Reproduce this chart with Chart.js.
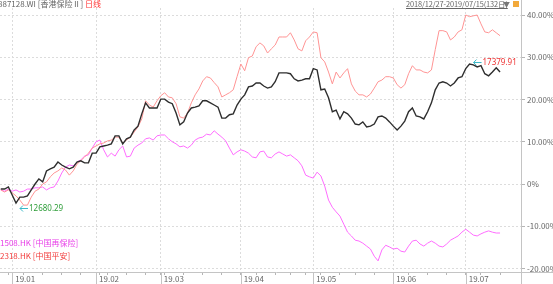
<!DOCTYPE html>
<html lang="zh-CN">
<head>
<meta charset="UTF-8">
<script src="https://cdn.jsdelivr.net/npm/chart.js"></script>
<title>887128.WI 香港保险Ⅱ</title>
<style>
  body { margin: 0; background: #fff; font-family: "Noto Sans CJK SC", sans-serif; }
  .quadro { position: relative; width: 553px; height: 284px; overflow: hidden; }
  canvas { position: absolute; left: 0; top: 0; }
  .txt { position: absolute; font-size: 8px; line-height: 10px; white-space: nowrap; }
</style>
</head>
<body>
<div class="quadro">
  <canvas id="grafico" width="553" height="284"></canvas>
  <div class="txt" style="left:-2px; top:-1px; color:#666">887128.WI [香港保险Ⅱ] <span style="color:#f33">日线</span></div>
  <div class="txt" style="left:406px; top:-1px; color:#666; text-decoration:underline; font-size:7.4px; letter-spacing:-0.1px">2018/12/27-2019/07/15(132日)</div>
  <div class="txt" style="left:503px; top:-1px; color:#777; font-size:7px">▼</div>
  <div style="position:absolute; left:513px; top:1px; width:6px; height:6px; background:#f2a93b"></div>
  <div class="txt" style="left:0; top:238px; color:#e83ee8">1508.HK [中国再保险]</div>
  <div class="txt" style="left:0; top:251px; color:#f23c3c">2318.HK [中国平安]</div>
</div>

<script>
// trading days (HK calendar), 2018/12/27 - 2019/07/15
const diasMes = [
  ['2018-12', [27, 28, 31]],
  ['2019-01', [2, 3, 4, 7, 8, 9, 10, 11, 14, 15, 16, 17, 18, 21, 22, 23, 24, 25, 28, 29, 30, 31]],
  ['2019-02', [1, 4, 8, 11, 12, 13, 14, 15, 18, 19, 20, 21, 22, 25, 26, 27, 28]],
  ['2019-03', [1, 4, 5, 6, 7, 8, 11, 12, 13, 14, 15, 18, 19, 20, 21, 22, 25, 26, 27, 28, 29]],
  ['2019-04', [1, 2, 3, 4, 8, 9, 10, 11, 12, 15, 16, 17, 18, 23, 24, 25, 26, 29, 30]],
  ['2019-05', [2, 3, 6, 7, 8, 9, 10, 14, 15, 16, 17, 20, 21, 22, 23, 24, 27, 28, 29, 30, 31]],
  ['2019-06', [3, 4, 5, 6, 10, 11, 12, 13, 14, 17, 18, 19, 20, 21, 24, 25, 26, 27, 28]],
  ['2019-07', [2, 3, 4, 5, 8, 9, 10, 11, 12, 15]]
]
const rotulosMes = ['19.01', '19.02', '19.03', '19.04', '19.05', '19.06', '19.07']
const ticksY = [-20, -10, 0, 10, 20, 30, 40]

// % change, 887128.WI 香港保险Ⅱ
const indice = [-1.2, -1.2, -0.7, -2.6, -4.5, -3.1, -3.1, -2.8, -1.4, 0.0,
  1.2, 0.5, 3.1, 3.6, 4.0, 5.2, 4.5, 4.0, 3.6, 4.0,
  5.2, 5.5, 5.0, 5.0, 7.3, 7.3, 8.8, 9.0, 9.2, 9.5,
  11.4, 11.4, 9.5, 10.7, 11.1, 12.8, 13.7, 16.6, 19.2, 18.0,
  18.0, 18.0, 20.1, 20.1, 19.4, 19.0, 16.8, 14.0, 14.7, 16.8,
  18.0, 18.2, 18.5, 19.7, 19.7, 19.2, 18.7, 18.2, 15.6, 15.6,
  16.4, 16.6, 18.7, 20.1, 21.1, 23.0, 23.2, 23.9, 23.9, 23.2,
  22.7, 23.0, 24.2, 26.3, 26.3, 26.3, 26.1, 24.9, 24.4, 24.6,
  24.9, 24.9, 27.3, 27.0, 22.3, 22.5, 20.4, 17.1, 17.5, 15.4,
  17.1, 16.6, 15.6, 14.2, 14.0, 14.7, 13.5, 13.7, 14.2, 15.9,
  16.1, 15.6, 14.7, 13.7, 12.8, 13.7, 14.9, 17.1, 18.0, 16.1,
  15.9, 15.4, 17.1, 19.2, 22.3, 23.9, 24.2, 23.9, 23.2, 23.9,
  25.1, 25.4, 27.3, 28.4, 28.2, 27.7, 28.0, 26.1, 25.6, 26.5,
  27.5, 26.5]

// 2318.HK 中国平安
const pingan = [-1.4, -1.9, -1.4, -2.1, -2.8, -3.8, -5.0, -5.0, -3.1, -1.7,
  -1.2, 0.0, 0.5, 1.7, 2.6, 3.1, 3.8, 3.3, 2.1, 3.1,
  4.7, 5.5, 6.4, 7.3, 8.5, 9.0, 9.5, 9.7, 10.2, 10.4,
  11.1, 11.1, 9.7, 10.4, 11.1, 12.3, 13.5, 15.4, 19.7, 18.7,
  18.2, 19.7, 20.9, 21.6, 20.6, 20.4, 19.0, 15.9, 15.6, 16.8,
  19.2, 21.1, 22.5, 24.4, 25.4, 25.1, 24.0, 23.0, 20.6, 21.1,
  21.6, 22.3, 25.4, 28.4, 26.8, 29.9, 30.3, 32.5, 33.4, 32.7,
  31.0, 32.0, 32.9, 34.8, 34.8, 34.8, 35.8, 34.1, 32.0, 31.5,
  33.9, 34.8, 36.0, 35.8, 29.9, 28.9, 26.5, 23.7, 26.5, 25.1,
  26.3, 27.3, 23.7, 22.0, 21.1, 21.1, 20.6, 21.3, 22.7, 24.2,
  24.6, 25.4, 25.4, 25.1, 23.5, 22.7, 23.5, 26.1, 28.0, 27.0,
  27.0, 26.5, 26.3, 27.0, 31.8, 36.3, 36.3, 36.0, 34.1, 34.8,
  36.0, 36.5, 40.0, 39.6, 39.8, 40.0, 37.9, 36.0, 35.8, 36.5,
  35.8, 35.1]

// 1508.HK 中国再保险
const zaibao = [-1.4, -1.7, -1.2, -1.7, -1.4, -1.9, -1.7, -1.2, -1.2, -0.9,
  -0.9, -0.7, -1.4, -0.9, -0.7, 0.7, 2.6, 4.0, 4.5, 4.3,
  5.2, 5.7, 6.6, 6.9, 8.5, 10.0, 10.4, 8.1, 6.4, 7.3,
  6.6, 8.1, 9.0, 6.4, 6.6, 8.5, 9.2, 9.7, 10.7, 10.9,
  10.4, 11.4, 11.6, 11.6, 10.7, 10.0, 9.5, 8.8, 9.0, 8.5,
  9.2, 10.4, 10.9, 11.1, 11.8, 11.6, 12.6, 11.8, 11.1, 10.2,
  8.5, 6.9, 7.6, 8.1, 7.8, 7.3, 6.4, 6.2, 7.6, 7.8,
  6.4, 6.2, 7.1, 7.6, 7.1, 6.6, 6.9, 6.2, 5.5, 4.3,
  2.1, 1.7, 1.4, 2.8, 1.9, -0.5, -3.8, -5.5, -6.6, -7.6,
  -9.5, -11.4, -12.3, -13.3, -13.5, -14.0, -14.7, -15.4, -17.1, -18.2,
  -15.6, -14.5, -14.9, -15.4, -15.2, -15.9, -16.1, -14.7, -13.5, -13.3,
  -14.2, -14.7, -14.0, -13.5, -14.0, -14.7, -14.9, -14.2, -13.3, -12.8,
  -12.3, -11.4, -10.7, -11.4, -12.1, -12.3, -11.8, -11.4, -11.1, -11.4,
  -11.6, -11.6]

const valorMin = '12680.29'
const valorMax = '17379.91'

// build date list, month starts and week starts
const datas = []
diasMes.forEach(([m, dias]) => dias.forEach(d => datas.push(new Date(m + '-' + String(d).padStart(2, '0') + 'T00:00:00'))))
const inicioMes = {}
let k = 0
for (let i = 1; i < datas.length; i++) {
  if (datas[i].getMonth() !== datas[i - 1].getMonth()) inicioMes[i] = rotulosMes[k++]
}
const posTicks = []
for (let i = 0; i < datas.length; i++) {
  const novaSemana = i > 0 && (datas[i].getDay() < datas[i - 1].getDay() || datas[i] - datas[i - 1] >= 7 * 864e5)
  if (novaSemana || inicioMes[i]) posTicks.push(i)
}

const serie = arr => arr.map((v, i) => ({ x: i, y: v }))

const extras = {
  id: 'extras',
  afterDraw(chart) {
    const { ctx, chartArea, scales: { x, y } } = chart
    ctx.save()
    ctx.strokeStyle = '#c4c4c4'
    ctx.lineWidth = 1
    ctx.beginPath()
    ctx.moveTo(0, chartArea.bottom + 0.5)
    ctx.lineTo(chart.width, chartArea.bottom + 0.5)
    ctx.moveTo(chartArea.right + 0.5, 0)
    ctx.lineTo(chartArea.right + 0.5, chart.height)
    Object.keys(inicioMes).forEach(i => {
      const px = Math.round(x.getPixelForValue(+i)) + 0.5
      ctx.moveTo(px, chartArea.bottom)
      ctx.lineTo(px, chart.height)
    })
    ctx.stroke()

    // min / max labels on the index line
    const iMin = indice.indexOf(Math.min(...indice))
    const iMax = indice.indexOf(Math.max(...indice))
    const marca = (i, dy, texto, cor) => {
      const px = x.getPixelForValue(i) + 4
      const py = y.getPixelForValue(indice[i]) + dy
      ctx.strokeStyle = '#3bb8c8'
      ctx.lineWidth = 1
      ctx.beginPath()
      ctx.moveTo(px, py + 0.5)
      ctx.lineTo(px + 8, py + 0.5)
      ctx.moveTo(px + 3, py - 2.5)
      ctx.lineTo(px, py + 0.5)
      ctx.lineTo(px + 3, py + 3.5)
      ctx.stroke()
      ctx.fillStyle = cor
      ctx.font = '8px "Noto Sans"'
      ctx.textBaseline = 'middle'
      ctx.fillText(texto, px + 9, py + 0.5)
    }
    marca(iMin, 5, valorMin, '#2f9e3a')
    marca(iMax, -2, valorMax, '#ee3333')
    ctx.restore()
  }
}

const ctx = document.getElementById('grafico')

new Chart(ctx, {
  type: 'line',
  data: {
    datasets: [
      { label: '887128.WI', data: serie(indice), borderColor: '#2e2e2e', borderWidth: 1.4 },
      { label: '2318.HK', data: serie(pingan), borderColor: '#ff9494', borderWidth: 1 },
      { label: '1508.HK', data: serie(zaibao), borderColor: '#ff6cff', borderWidth: 1 }
    ]
  },
  options: {
    responsive: false,
    animation: false,
    events: [],
    layout: { padding: { top: 8, left: 0, right: 0, bottom: 0 } },
    elements: { point: { radius: 0 }, line: { tension: 0 } },
    plugins: { legend: { display: false }, tooltip: { enabled: false } },
    scales: {
      x: {
        type: 'linear',
        min: -0.2,
        max: 136.5,
        afterFit: s => { s.height = 12 },
        afterBuildTicks: s => { s.ticks = posTicks.map(i => ({ value: i })) },
        border: { display: false, dash: [2, 2] },
        grid: {
          color: c => (c.tick && inicioMes[c.tick.value]) ? '#dcdcdc' : 'rgba(0,0,0,0)',
          tickColor: '#b5b5b5',
          tickLength: 3,
          lineWidth: 1
        },
        ticks: {
          autoSkip: false,
          maxRotation: 0,
          align: 'start',
          labelOffset: 3,
          padding: -1,
          color: '#666',
          font: { size: 8, family: '"Noto Sans CJK SC"' },
          callback: v => inicioMes[v] || ''
        }
      },
      y: {
        position: 'right',
        min: -20.83,
        max: 41.66,
        afterFit: s => { s.width = 32 },
        afterBuildTicks: s => { s.ticks = ticksY.map(v => ({ value: v })) },
        border: { display: false, dash: [2, 2] },
        grid: { color: '#dcdcdc', tickColor: '#b5b5b5', tickLength: 4 },
        ticks: {
          padding: 2,
          color: '#666',
          font: { size: 8, family: '"Noto Sans CJK SC"' },
          callback: v => v === 0 ? '0%' : v.toFixed(2) + '%'
        }
      }
    }
  },
  plugins: [extras]
})
</script>
</body>
</html>
